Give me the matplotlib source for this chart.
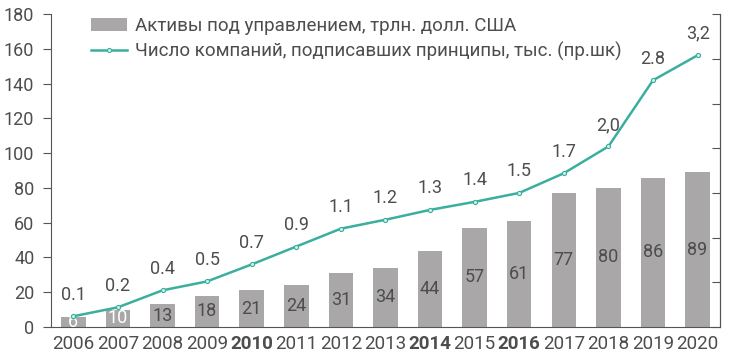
import numpy as np
import matplotlib
matplotlib.use('Agg')
from matplotlib import pyplot as plt

years = ['2006', '2007', '2008', '2009', '2010', '2011', '2012', '2013',
         '2014', '2015', '2016', '2017', '2018', '2019', '2020']
assets = [6, 10, 13, 18, 21, 24, 31, 34, 44, 57, 61, 77, 80, 86, 89]
# thousands of signatories (right axis)
signatories = [0.12, 0.22, 0.41, 0.51, 0.70, 0.90, 1.10, 1.20, 1.31, 1.40,
               1.50, 1.72, 2.02, 2.76, 3.04]
sign_labels = ['0.1', '0.2', '0.4', '0.5', '0.7', '0.9', '1.1', '1.2', '1.3',
               '1.4', '1.5', '1.7', '2,0', '2.8', '3,2']
bold_years = ['2010', '2014', '2016']

plt.rcParams['font.family'] = ['Roboto', 'DejaVu Sans']
txt = '#4d4d4d'
bar_c = '#a9a7a7'
line_c = '#3aaf9f'

fig = plt.figure(figsize=(7.31, 3.6), dpi=100)
ax = fig.add_axes([0.0698, 0.0917, 0.915, 0.869])
x = np.arange(len(years))

bars = ax.bar(x, assets, width=0.55, color=bar_c, zorder=2,
              label='Активы под управлением, трлн. долл. США')
for i, v in enumerate(assets):
    c = 'white' if v < 12 else txt
    ax.text(x[i], v / 2, str(v), ha='center', va='center', fontsize=13,
            color=c, zorder=3)

ax.set_ylim(0, 180)
ax.set_yticks(range(0, 181, 20))
ax.set_xlim(-0.5, len(years) - 0.5)
ax.set_xticks(x)
ax.set_xticklabels(years)
for lab in ax.get_xticklabels():
    if lab.get_text() in bold_years:
        lab.set_fontweight('bold')
        lab.set_color('#333333')
ax.tick_params(axis='x', length=0, labelsize=13.5, labelcolor=txt, pad=6)
ax.tick_params(axis='y', length=6, labelsize=13, labelcolor=txt, color='#555555', pad=6)
ax.spines['top'].set_visible(False)
for s in ['left', 'bottom', 'right']:
    ax.spines[s].set_color('#555555')

ax2 = ax.twinx()
ax2.set_ylim(0, 3.5)
ax2.set_yticks(np.arange(0, 3.51, 0.5))
ax2.tick_params(axis='y', direction='in', length=6, color='#555555', labelright=False)
ax2.spines['top'].set_visible(False)
ax2.spines['right'].set_color('#555555')
ax2.spines['left'].set_visible(False)
ax2.spines['bottom'].set_visible(False)
ax2.plot(x, signatories, color=line_c, lw=1.8, marker='o', ms=3,
         mfc='#cfeee9', mec=line_c, mew=0.8, zorder=4,
         label='Число компаний, подписавших принципы, тыс. (пр.шк)')
for i, v in enumerate(signatories):
    ax2.annotate(sign_labels[i], (x[i], v), xytext=(0, 9), textcoords='offset points',
                 ha='center', va='bottom', fontsize=13, color=txt)

h1, l1 = ax.get_legend_handles_labels()
h2, l2 = ax2.get_legend_handles_labels()
ax.legend(h1 + h2, l1 + l2, loc='upper left', bbox_to_anchor=(0.035, 1.045),
          frameon=False, fontsize=13.5, labelcolor=txt, handlelength=1.9,
          handletextpad=0.45, labelspacing=0.35)

plt.savefig('out.png', dpi=100)
